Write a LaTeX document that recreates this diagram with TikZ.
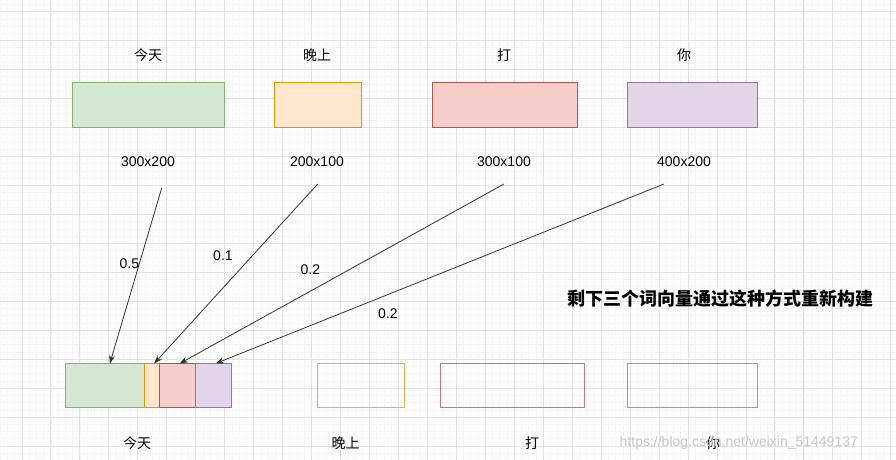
\documentclass[tikz,border=0pt]{standalone}
\usepackage{fontspec}
\setmainfont{Liberation Sans}
\newfontfamily\cjk{Noto Sans CJK SC}
\usepackage{xcolor}
\usepackage{tikz}
\usetikzlibrary{arrows.meta, positioning, calc}
\definecolor{greenfill}{HTML}{D5E8D4}
\definecolor{greenline}{HTML}{82B366}
\definecolor{orangefill}{HTML}{FFE6CC}
\definecolor{orangeline}{HTML}{D79B00}
\definecolor{redfill}{HTML}{F8CECC}
\definecolor{redline}{HTML}{B85450}
\definecolor{purplefill}{HTML}{E1D5E7}
\definecolor{purpleline}{HTML}{9673A6}
\definecolor{gridminor}{HTML}{F4F4F4}
\definecolor{gridmajor}{HTML}{E2E2E2}
\definecolor{arrowgray}{HTML}{333333}
\tikzstyle{vecbox} = [rectangle, inner sep=0pt, outer sep=0pt, line width=0.75pt, minimum height=33pt]
\tikzstyle{word} = [font=\cjk\fontsize{10.5}{12}\selectfont, inner sep=1pt]
\tikzstyle{dim} = [font=\fontsize{10.5}{12}\selectfont, inner sep=1pt]
\tikzstyle{weight} = [font=\fontsize{10.5}{12}\selectfont, inner sep=1pt]
\tikzstyle{arrow} = [-{Stealth[length=2.2mm, width=1.6mm]}, draw=arrowgray, line width=0.6pt]

\begin{document}
\begin{tikzpicture}[x=0.75pt, y=-0.75pt]
    \useasboundingbox (0,0) rectangle (896,460);
    \fill[white] (0,0) rectangle (896,460);

    % Background grid
    \foreach \i in {0,...,123}
        \draw[gridminor, line width=0.6pt] ({0.28+\i*7.24},0) -- ++(0,460);
    \foreach \i in {0,...,63}
        \draw[gridminor, line width=0.6pt] (0,{4.46+\i*7.24}) -- ++(896,0);
    \foreach \k in {0,...,30}
        \draw[gridmajor, line width=0.75pt] ({22+\k*28.96},0) -- ++(0,460);
    \foreach \k in {0,...,15}
        \draw[gridmajor, line width=0.75pt] (0,{11.7+\k*28.96}) -- ++(896,0);

    % Word vectors
    \node[vecbox, fill=greenfill, draw=greenline, minimum width=114pt] (jtbox) at (148.7,105) {};
    \node[vecbox, fill=orangefill, draw=orangeline, minimum width=65.25pt] (wsbox) at (317.5,105) {};
    \node[vecbox, fill=redfill, draw=redline, minimum width=108.75pt] (dabox) at (504.5,105) {};
    \node[vecbox, fill=purplefill, draw=purpleline, minimum width=97.5pt] (nibox) at (692,105) {};

    % Words and sizes
    \node[word] (jtlab) at (148,55) {今天};
    \node[word] (wslab) at (317,55) {晚上};
    \node[word] (dalab) at (504,55) {打};
    \node[word] (nilab) at (684,55) {你};
    \node[dim] (jtdim) at (148,162) {300x200};
    \node[dim] (wsdim) at (317,162) {200x100};
    \node[dim] (dadim) at (504,162) {300x100};
    \node[dim] (nidim) at (684,162) {400x200};

    % Weighted sum for the first word
    \node[vecbox, fill=greenfill, draw=greenline, minimum width=59.25pt] (mix1) at (104.5,385.5) {};
    \node[vecbox, fill=orangefill, draw=orangeline, minimum width=11.25pt, right=0pt of mix1] (mix2) {};
    \node[vecbox, fill=redfill, draw=redline, minimum width=27pt, right=0pt of mix2] (mix3) {};
    \node[vecbox, fill=purplefill, draw=purpleline, minimum width=27pt, right=0pt of mix3] (mix4) {};

    % Remaining words, still empty
    \node[vecbox, draw=orangeline!75, minimum width=65.25pt] (wsnew) at (360.5,385.5) {};
    \node[vecbox, draw=redline!80, minimum width=108pt] (danew) at (512,385.5) {};
    \node[vecbox, draw=purpleline!80, minimum width=97.5pt] (ninew) at (692,385.5) {};

    \node[word] (jtout) at (137,443) {今天};
    \node[word] (wsout) at (345.7,443) {晚上};
    \node[word] (daout) at (532,443) {打};
    \node[word] (niout) at (713,443) {你};

    % Arrows with weights
    \coordinate (jtstart) at (161.7,188);
    \coordinate (wsstart) at (317.7,184);
    \coordinate (dastart) at (504,184);
    \coordinate (nistart) at (664,184);
    \draw[arrow] (jtstart) -- ([xshift=4pt]mix1.north) node[weight, pos=0.43, xshift=-7.5pt] {0.5};
    \draw[arrow] (wsstart) -- ([xshift=2pt]mix2.north) node[weight, pos=0.4, xshift=-22pt] {0.1};
    \draw[arrow] (dastart) -- ([xshift=2pt]mix3.north) node[weight, pos=0.478, xshift=-29pt] {0.2};
    \draw[arrow] (nistart) -- ([xshift=2pt]mix4.north) node[weight, pos=0.616, yshift=-14pt] {0.2};

    % Note
    \node[font=\cjk\bfseries\fontsize{13.5}{16}\selectfont] (note) at (720,299) {剩下三个词向量通过这种方式重新构建};

    % Watermark
    \node[font=\fontsize{10.5}{12}\selectfont, text=black!22, anchor=west] (mark) at (615,443) {https://blog.csdn.net/weixin\_51449137};
\end{tikzpicture}
\end{document}
